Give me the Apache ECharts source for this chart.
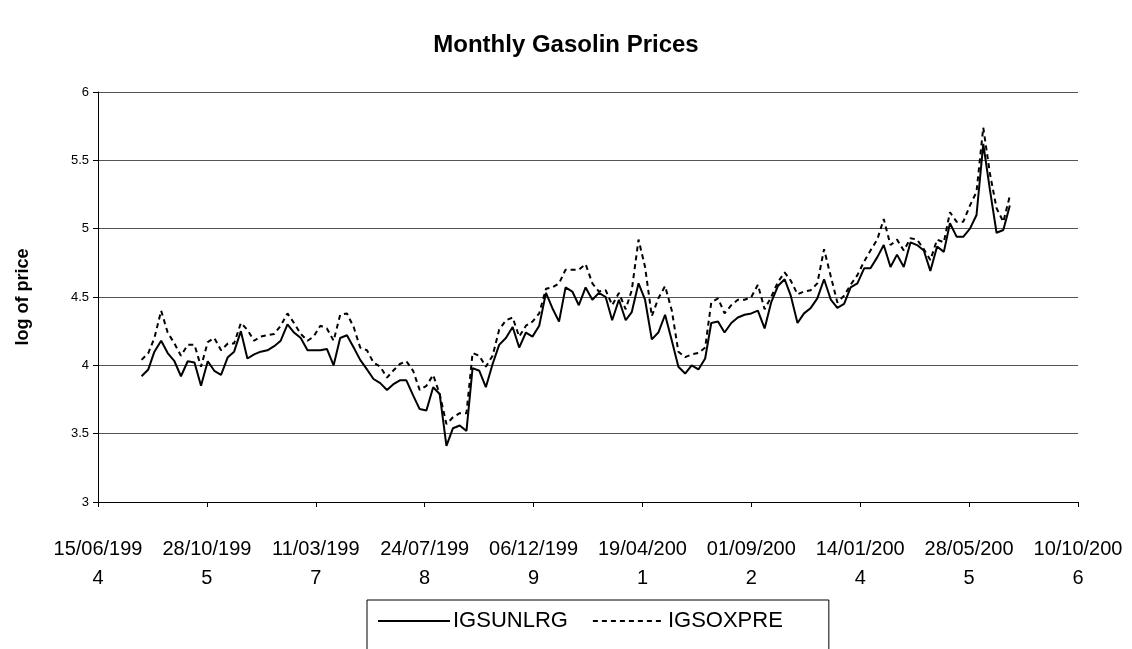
<!DOCTYPE html>
<html>
<head>
<meta charset="utf-8">
<title>Monthly Gasolin Prices</title>
<script src="https://cdn.jsdelivr.net/npm/echarts@6/dist/echarts.min.js"></script>
<style>
    html, body { margin: 0; padding: 0; background: #fff; }
    #gas-chart { width: 1132px; height: 649px; }
</style>
</head>
<body>
<div id="gas-chart"></div>
<script>
// 第一个月份 (1995年1月), 之后每月一个点
var firstYear = 1995;
var firstMonth = 1;

// IGSUNLRG 每月对数价格 (实线)
var igsunlrg = [
    3.92, 3.97, 4.10, 4.18, 4.09, 4.03, 3.92, 4.03, 4.02, 3.85, 4.03, 3.96,
    3.93, 4.06, 4.10, 4.25, 4.05, 4.08, 4.10, 4.11, 4.14, 4.18, 4.30, 4.24,
    4.20, 4.11, 4.11, 4.11, 4.12, 4.00, 4.20, 4.22, 4.13, 4.04, 3.97, 3.90,
    3.87, 3.82, 3.86, 3.89, 3.89, 3.78, 3.68, 3.67, 3.84, 3.79, 3.41, 3.54,
    3.56, 3.52, 3.98, 3.96, 3.84, 4.01, 4.15, 4.20, 4.28, 4.13, 4.24, 4.21,
    4.29, 4.53, 4.42, 4.32, 4.57, 4.54, 4.44, 4.57, 4.48, 4.53, 4.50, 4.33,
    4.48, 4.33, 4.39, 4.60, 4.48, 4.19, 4.24, 4.37, 4.18, 3.99, 3.94, 4.00,
    3.97, 4.05, 4.31, 4.32, 4.24, 4.31, 4.35, 4.37, 4.38, 4.40, 4.27, 4.46,
    4.58, 4.63, 4.51, 4.31, 4.38, 4.42, 4.49, 4.63, 4.48, 4.42, 4.45, 4.57,
    4.60, 4.71, 4.71, 4.79, 4.88, 4.72, 4.81, 4.72, 4.90, 4.88, 4.84, 4.69,
    4.87, 4.83, 5.04, 4.94, 4.94, 5.00, 5.10, 5.62, 5.28, 4.97, 4.99, 5.17
];

// IGSOXPRE 每月对数价格 (虚线)
var igsoxpre = [
    4.04, 4.09, 4.20, 4.40, 4.24, 4.16, 4.07, 4.15, 4.15, 3.99, 4.17, 4.20,
    4.11, 4.16, 4.16, 4.31, 4.26, 4.18, 4.21, 4.22, 4.23, 4.29, 4.38, 4.31,
    4.23, 4.18, 4.21, 4.29, 4.27, 4.18, 4.37, 4.38, 4.28, 4.13, 4.11, 4.02,
    3.99, 3.91, 3.96, 4.01, 4.03, 3.96, 3.82, 3.85, 3.93, 3.79, 3.57, 3.62,
    3.65, 3.65, 4.09, 4.07, 3.99, 4.07, 4.26, 4.33, 4.35, 4.21, 4.29, 4.32,
    4.38, 4.56, 4.57, 4.60, 4.70, 4.70, 4.70, 4.74, 4.60, 4.54, 4.55, 4.44,
    4.53, 4.41, 4.55, 4.92, 4.72, 4.36, 4.49, 4.58, 4.40, 4.10, 4.06, 4.08,
    4.09, 4.13, 4.46, 4.49, 4.38, 4.44, 4.48, 4.48, 4.50, 4.59, 4.41, 4.50,
    4.61, 4.68, 4.62, 4.52, 4.54, 4.55, 4.60, 4.85, 4.65, 4.46, 4.51, 4.59,
    4.66, 4.76, 4.84, 4.92, 5.07, 4.88, 4.92, 4.84, 4.93, 4.92, 4.85, 4.77,
    4.92, 4.90, 5.12, 5.05, 5.05, 5.17, 5.27, 5.74, 5.40, 5.15, 5.05, 5.24
];

// x轴: 从 15/06/1994 开始的天数, 每500天一个刻度
var axisStart = Date.UTC(1994, 5, 15);
var axisDays = 4500;
var tickDays = 500;
var dayMs = 86400000;

// y轴刻度
var yMin = 3;
var yMax = 6;
var yStep = 0.5;

var seriesNames = ['IGSUNLRG', 'IGSOXPRE'];

/**
 * 第 i 个月离 15/06/1994 的天数
 */
function monthDay(i) {
    var y = firstYear + Math.floor((firstMonth - 1 + i) / 12);
    var m = (firstMonth - 1 + i) % 12;
    return (Date.UTC(y, m, 1) - axisStart) / dayMs;
}

/**
 * 把数组变成 [天数, 值] 的点
 */
function toPoints(values) {
    var pts = [];
    for (var i = 0; i < values.length; i++) {
        pts.push([monthDay(i), values[i]]);
    }
    return pts;
}

function pad2(n) {
    return (n < 10 ? '0' : '') + n;
}

/**
 * 刻度文字 dd/mm/yyyy, 像 Excel 一样在第9个字符后折行
 */
function dayLabel(v) {
    var d = new Date(axisStart + v * dayMs);
    var s = pad2(d.getUTCDate()) + '/' + pad2(d.getUTCMonth() + 1) + '/' + d.getUTCFullYear();
    return s.substring(0, 9) + '\n' + s.substring(9);
}

var myChart = echarts.init(document.getElementById('gas-chart'), null, { renderer: 'canvas' });

var option = {
    backgroundColor: '#ffffff',
    animation: false,
    textStyle: { fontFamily: 'Liberation Sans, Arial, sans-serif', color: '#000' },
    title: {
        text: 'Monthly Gasolin Prices',
        left: 'center',
        top: 28,
        textStyle: { fontSize: 24, fontWeight: 'bold', color: '#000', fontFamily: 'Liberation Sans, Arial, sans-serif' }
    },
    grid: { left: 98, right: 54, top: 92, bottom: 147, containLabel: false },
    legend: {
        data: seriesNames,
        left: 367,
        top: 600,
        itemWidth: 72,
        itemHeight: 2,
        itemGap: 24,
        padding: [10, 46, 30, 10],
        borderColor: '#000',
        borderWidth: 1,
        itemStyle: { opacity: 0 },
        textStyle: { fontSize: 22, color: '#000', padding: [0, 0, 0, -2] }
    },
    xAxis: {
        type: 'value',
        min: 0,
        max: axisDays,
        interval: tickDays,
        axisLine: { show: true, lineStyle: { color: '#000', width: 1 } },
        axisTick: { show: true, length: 5, lineStyle: { color: '#000' } },
        splitLine: { show: false },
        axisLabel: {
            formatter: dayLabel,
            fontSize: 20,
            lineHeight: 29,
            margin: 33,
            color: '#000'
        }
    },
    yAxis: {
        type: 'value',
        min: yMin,
        max: yMax,
        interval: yStep,
        name: 'log of price',
        nameLocation: 'middle',
        nameRotate: 90,
        nameGap: 66,
        nameTextStyle: { fontSize: 18, fontWeight: 'bold', color: '#000' },
        axisLine: { show: true, lineStyle: { color: '#000', width: 1 } },
        axisTick: { show: true, length: 5, lineStyle: { color: '#000' } },
        splitLine: { show: true, lineStyle: { color: '#555', width: 1 } },
        axisLabel: { fontSize: 13, margin: 9, color: '#000' }
    },
    series: [
        {
            name: seriesNames[0],
            type: 'line',
            data: toPoints(igsunlrg),
            symbol: 'none',
            lineStyle: { color: '#000', width: 2, type: 'solid' },
            itemStyle: { color: '#000' }
        },
        {
            name: seriesNames[1],
            type: 'line',
            data: toPoints(igsoxpre),
            symbol: 'none',
            lineStyle: { color: '#000', width: 2, type: [5, 4] },
            itemStyle: { color: '#000' }
        }
    ]
};

myChart.setOption(option);
</script>
</body>
</html>
